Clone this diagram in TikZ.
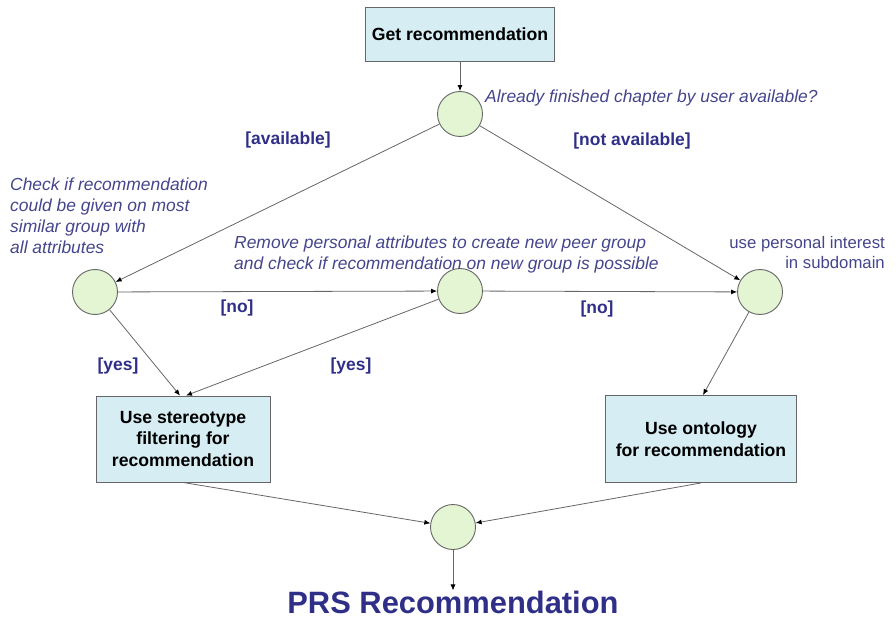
\documentclass[tikz,border=0pt]{standalone}
\usepackage{fontspec}
\setmainfont{Liberation Sans}
\usetikzlibrary{arrows.meta}
\definecolor{boxfill}{HTML}{D6EEF3}
\definecolor{circfill}{HTML}{E3F5D2}
\definecolor{edgegray}{HTML}{666666}
\definecolor{navy}{HTML}{2F2F88}
\definecolor{itblue}{HTML}{45458C}
\tikzset{
  box/.style={draw=edgegray, line width=0.9bp, fill=boxfill, align=center, font=\fontsize{17.7}{22}\selectfont\bfseries, inner sep=0pt},
  dec/.style={circle, draw=edgegray, line width=0.9bp, fill=circfill, minimum size=45bp, inner sep=0pt},
  lab/.style={text=navy, font=\fontsize{17.5}{20}\selectfont\bfseries},
  note/.style={text=itblue, font=\fontsize{17.5}{21}\selectfont\itshape, inner sep=0pt},
  plain/.style={text=itblue, font=\fontsize{16.8}{20.5}\selectfont, inner sep=0pt},
  arr/.style={draw=edgegray, line width=0.8bp, -{Latex[length=6bp,width=5bp,color=black]}}
}
\begin{document}
\begin{tikzpicture}[x=1bp,y=-1bp]
\useasboundingbox (0,0) rectangle (896,619);
\node[box, minimum width=189bp, minimum height=54bp] (get) at (460,34) {Get recommendation};
\node[dec] (c1) at (460,114) {};
\node[dec] (cL) at (95,292) {};
\node[dec] (cM) at (460,291) {};
\node[dec] (cR) at (760,292) {};
\node[dec] (cB) at (453,527) {};
\node[box, minimum width=174bp, minimum height=86bp] (st) at (183,439) {Use stereotype\\filtering for\\recommendation};
\node[box, minimum width=191bp, minimum height=87bp] (on) at (701,439) {Use ontology\\for recommendation};
\node[text=navy, font=\fontsize{31}{35}\selectfont\bfseries, inner sep=0pt] (prs) at (453,602) {PRS Recommendation};

\node[note, anchor=west] (q1) at (485,98) {Already finished chapter by user available?};
\node[note, anchor=north west, align=left] (q2) at (10,178) {Check if recommendation\\could be given on most\\similar group with\\all attributes};
\node[note, anchor=north west, align=left] (q3) at (234,236) {Remove personal attributes to create new peer group\\and check if recommendation on new group is possible};
\node[plain, anchor=north east, align=right] (q4) at (885,236) {use personal interest\\in subdomain};

\node[lab] (lav) at (288,140) {[available]};
\node[lab] (lnav) at (632,141) {[not available]};
\node[lab] (lno1) at (237,308) {[no]};
\node[lab] (lno2) at (597,309) {[no]};
\node[lab] (lyes1) at (118,366) {[yes]};
\node[lab] (lyes2) at (351,366) {[yes]};

\draw[arr] (get) -- (c1);
\draw[arr] (c1) -- (cL);
\draw[arr] (c1) -- (cR);
\draw[arr] (cL) -- (cM);
\draw[arr] (cM) -- (cR);
\draw[arr] (cL) -- ([xshift=-3bp]st.north);
\draw[arr] (cM) -- ([xshift=3bp]st.north);
\draw[arr] (cR) -- ([xshift=2bp]on.north);
\draw[arr] (st.south) -- (cB);
\draw[arr] (on.south) -- (cB);
\draw[arr] (cB) -- (prs.north);
\end{tikzpicture}
\end{document}
